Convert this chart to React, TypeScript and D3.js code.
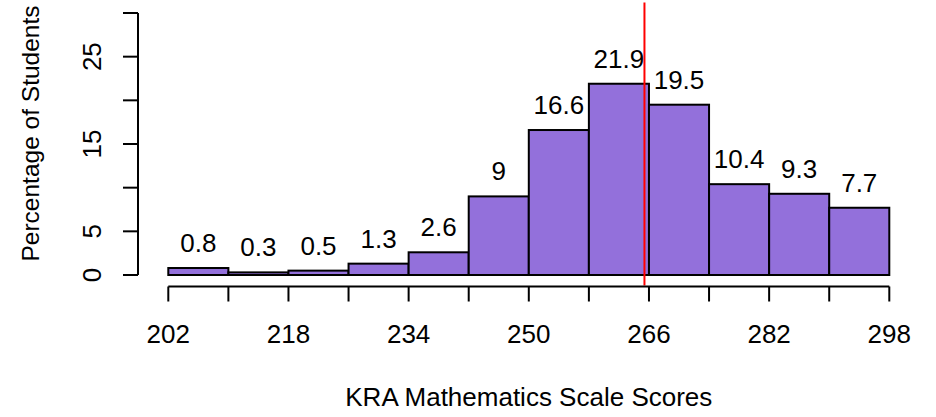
import React from "react";
import * as d3 from "d3";

const binEdges = [202, 210, 218, 226, 234, 242, 250, 258, 266, 274, 282, 290, 298];
const percents = [0.8, 0.3, 0.5, 1.3, 2.6, 9, 16.6, 21.9, 19.5, 10.4, 9.3, 7.7];
const barLabels = ["0.8", "0.3", "0.5", "1.3", "2.6", "9", "16.6", "21.9", "19.5", "10.4", "9.3", "7.7"];
const xTickValues = [202, 210, 218, 226, 234, 242, 250, 258, 266, 274, 282, 290, 298];
const xTickLabels = [202, 218, 234, 250, 266, 282, 298];
const yTickValues = [0, 5, 10, 15, 20, 25, 30];
const yTickLabels = [0, 5, 15, 25];
const meanLine = 265.4;
const xTitle = "KRA Mathematics Scale Scores";
const yTitle = "Percentage of Students";

export default function App() {
  const W = 936, H = 417;
  const x = d3.scaleLinear().domain([202, 298]).range([168.3, 889.3]);
  const y = d3.scaleLinear().domain([0, 30]).range([275, 13]);
  const font = "Liberation Sans, Arial, Helvetica, sans-serif";
  const fs = 26;
  const axisY = 286.5;
  const axisX = 138;
  const bars = percents.map((p, i) => ({ x0: binEdges[i], x1: binEdges[i + 1], p, label: barLabels[i] }));
  return (
    <svg width={W} height={H} style={{ position: "absolute", left: 0, top: 0, background: "#fff" }}
      fontFamily={font} fontSize={fs}>
      <rect x={0} y={0} width={W} height={H} fill="#fff" />
      {bars.map((b, i) => (
        <g key={i}>
          <rect x={x(b.x0)} y={y(b.p)} width={x(b.x1) - x(b.x0)} height={y(0) - y(b.p)}
            fill="#9370DB" stroke="#000" strokeWidth={2} />
          <text x={(x(b.x0) + x(b.x1)) / 2} y={y(b.p) - 16} textAnchor="middle" fill="#000">{b.label}</text>
        </g>
      ))}
      <line x1={x(meanLine)} x2={x(meanLine)} y1={y(31.2)} y2={y(-1.2)} stroke="#ff0000" strokeWidth={2} />
      {/* x axis */}
      <line x1={x(202)} x2={x(298)} y1={axisY} y2={axisY} stroke="#000" strokeWidth={2} />
      {xTickValues.map((v) => (
        <line key={v} x1={x(v)} x2={x(v)} y1={axisY} y2={axisY + 15} stroke="#000" strokeWidth={2} />
      ))}
      {xTickLabels.map((v) => (
        <text key={v} x={x(v)} y={343} textAnchor="middle" fill="#000">{v}</text>
      ))}
      <text x={(x(202) + x(298)) / 2} y={406} textAnchor="middle" fill="#000">{xTitle}</text>
      {/* y axis */}
      <line x1={axisX} x2={axisX} y1={y(0)} y2={y(30)} stroke="#000" strokeWidth={2} />
      {yTickValues.map((v) => (
        <line key={v} x1={axisX - 15} x2={axisX} y1={y(v)} y2={y(v)} stroke="#000" strokeWidth={2} />
      ))}
      {yTickLabels.map((v) => (
        <text key={v} transform={`translate(101,${y(v)}) rotate(-90)`} textAnchor="middle" fill="#000">{v}</text>
      ))}
      <text transform={`translate(39,133.5) rotate(-90)`} textAnchor="middle" fontSize={24.5} fill="#000">{yTitle}</text>
    </svg>
  );
}
